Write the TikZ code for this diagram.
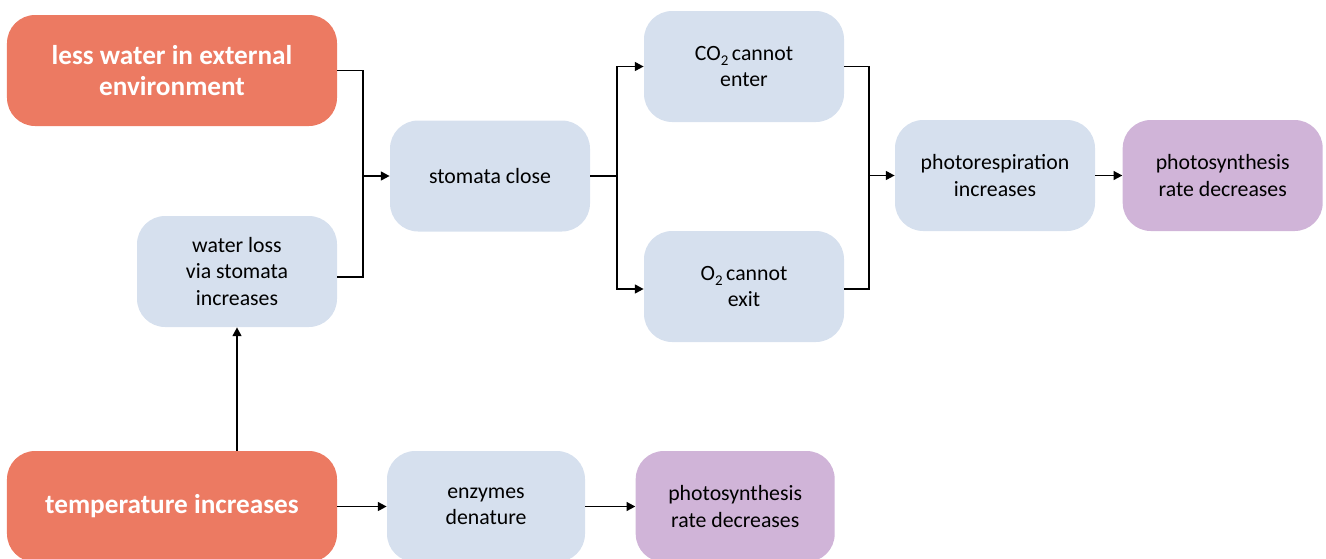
\documentclass[tikz,border=0pt]{standalone}
\usepackage{fontspec}
\setmainfont{Carlito}
\usepackage{tikz}
\usetikzlibrary{arrows.meta, positioning, calc}
\definecolor{causefill}{RGB}{236, 122, 98}
\definecolor{stepfill}{RGB}{214, 224, 238}
\definecolor{effectfill}{RGB}{208, 180, 216}
\definecolor{arrowcol}{RGB}{0, 0, 0}
% lowered subscript digit, set in the text font
\newcommand{\lowsub}[1]{\raisebox{-0.45ex}{\fontsize{8.5}{8.5}\selectfont #1}}

\begin{document}
\begin{tikzpicture}[
    >={Triangle[length=5pt, width=5pt]},
    font=\fontsize{12.4}{15}\selectfont,
    node distance=0.75cm,
    flowarrow/.style={->, line width=1.1pt, draw=arrowcol},
    joinline/.style={-, line width=1.1pt, draw=arrowcol},
    cause/.style={rectangle, rounded corners=16pt,
                  fill=causefill, text=white,
                  minimum width=6.6cm, minimum height=2.22cm,
                  align=center, font=\fontsize{15.5}{18}\selectfont\bfseries},
    stepbox/.style={rectangle, rounded corners=16pt,
                    fill=stepfill,
                    minimum width=4cm, minimum height=2.22cm,
                    align=center},
    effect/.style={stepbox, fill=effectfill},
]
\useasboundingbox (0, 0) rectangle (26.52, -11.16);

% ============================================================
% NODES
% ============================================================
\node[cause] (water) at (3.44, -1.41) {less water in external\\environment};
\node[stepbox] (loss) at (4.74, -5.43) {water loss\\via stomata\\increases};
\node[cause] (temp) at (3.44, -10.13) {temperature increases};

\node[stepbox] (stomata) at (9.80, -3.52) {stomata close};
\node[stepbox] (co2) at (14.88, -1.33) {CO\lowsub{2}\,cannot\\enter};
\node[stepbox] (o2) at (14.88, -5.73) {O\lowsub{2}\,cannot\\exit};

\node[stepbox] (photoresp) at (19.90, -3.51) {photorespiration\\increases};
\node[effect, right=0.54cm of photoresp] (rate) {photosynthesis\\rate decreases};

% Lower chain: temperature -> enzymes -> rate
\node[stepbox, minimum width=3.96cm] (enzymes) at (9.72, -10.13) {enzymes\\denature};
\node[effect, minimum width=3.98cm, right=1cm of enzymes] (ratelow) {photosynthesis\\rate decreases};

% ============================================================
% MERGE INTO STOMATA CLOSE
% ============================================================
\coordinate (mergeA) at (7.26, -3.52);
\draw[joinline] (water.east) -| (mergeA);
\draw[joinline] ([yshift=-0.11cm]loss.east) -| (mergeA);
\draw[flowarrow] (mergeA) -- (stomata.west);

% ============================================================
% SPLIT TO CO2 / O2
% ============================================================
\coordinate (splitB) at (12.34, -3.52);
\draw[joinline] (stomata.east) -- (splitB);
\draw[flowarrow] (splitB) |- (co2.west);
\draw[flowarrow] (splitB) |- ([yshift=-0.05cm]o2.west);

% ============================================================
% MERGE INTO PHOTORESPIRATION
% ============================================================
\coordinate (mergeC) at (17.38, -3.51);
\draw[joinline] (co2.east) -| (mergeC);
\draw[joinline] ([yshift=-0.05cm]o2.east) -| (mergeC);
\draw[flowarrow] (mergeC) -- (photoresp.west);
\draw[flowarrow] (photoresp) -- (rate);

% ============================================================
% TEMPERATURE BRANCHES
% ============================================================
\draw[flowarrow] (temp.north -| loss.south) -- (loss.south);
\draw[flowarrow] (temp) -- (enzymes);
\draw[flowarrow] (enzymes) -- (ratelow);

\end{tikzpicture}
\end{document}
